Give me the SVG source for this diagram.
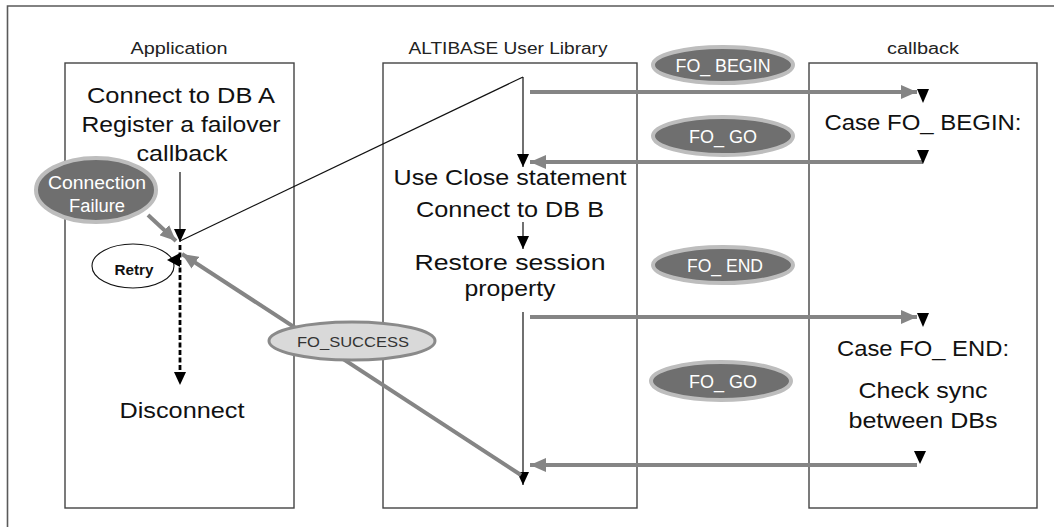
<svg xmlns="http://www.w3.org/2000/svg" width="1054" height="527" viewBox="0 0 1054 527">
<style>
.box{fill:#fff;stroke:#444;stroke-width:1.4}
.frame{fill:none;stroke:#5a5a5a;stroke-width:1.6}
.title{font-family:"Liberation Sans",Arial,sans-serif;font-size:16px;fill:#222;text-anchor:middle}
.main{font-family:"Liberation Sans",Arial,sans-serif;font-size:22px;fill:#111;text-anchor:middle}
.pill{fill:#6f6f6f;stroke:#bdbdbd;stroke-width:4}
.pilltxt{font-family:"Liberation Sans",Arial,sans-serif;font-size:18px;fill:#fff;text-anchor:middle}
.garrow{fill:none;stroke:#858585;stroke-width:4}
.thin{fill:none;stroke:#111;stroke-width:1.2}
.bhead{fill:#000}
</style>
<defs>
<marker id="gh" markerUnits="userSpaceOnUse" markerWidth="16" markerHeight="14" viewBox="0 0 16 14" refX="16" refY="7" orient="auto">
<path d="M0,0 L16,7 L0,14 Z" fill="#858585"/>
</marker>
<marker id="bh" markerUnits="userSpaceOnUse" markerWidth="13" markerHeight="12" viewBox="0 0 13 12" refX="13" refY="6" orient="auto">
<path d="M0,0 L13,6 L0,12 Z" fill="#000"/>
</marker>
</defs>
<path class="frame" d="M1054,6 L7.5,6 L7.5,527"/>
<g id="application">
<rect class="box" x="65" y="63" width="229" height="445"/>
<text class="title" x="179" y="54" textLength="97" lengthAdjust="spacingAndGlyphs">Application</text>
<text class="main" x="181" y="103" textLength="188" lengthAdjust="spacingAndGlyphs">Connect to DB A</text>
<text class="main" x="181" y="132" textLength="199" lengthAdjust="spacingAndGlyphs">Register a failover</text>
<text class="main" x="182" y="161" textLength="91" lengthAdjust="spacingAndGlyphs">callback</text>
<text class="main" x="182" y="418" textLength="125" lengthAdjust="spacingAndGlyphs">Disconnect</text>
</g>
<g id="library">
<rect class="box" x="383" y="63" width="254" height="445"/>
<text class="title" x="508" y="54" textLength="199" lengthAdjust="spacingAndGlyphs">ALTIBASE User Library</text>
<text class="main" x="510" y="185" textLength="233" lengthAdjust="spacingAndGlyphs">Use Close statement</text>
<text class="main" x="510" y="217" textLength="188" lengthAdjust="spacingAndGlyphs">Connect to DB B</text>
<text class="main" x="510" y="270" textLength="191" lengthAdjust="spacingAndGlyphs">Restore session</text>
<text class="main" x="510" y="296" textLength="91" lengthAdjust="spacingAndGlyphs">property</text>
</g>
<g id="callback">
<rect class="box" x="809" y="63" width="228" height="445"/>
<text class="title" x="923" y="54" textLength="72" lengthAdjust="spacingAndGlyphs">callback</text>
<text class="main" x="923" y="130" textLength="197" lengthAdjust="spacingAndGlyphs">Case FO_ BEGIN:</text>
<text class="main" x="923" y="356" textLength="172" lengthAdjust="spacingAndGlyphs">Case FO_ END:</text>
<text class="main" x="923" y="398" textLength="129" lengthAdjust="spacingAndGlyphs">Check sync</text>
<text class="main" x="923" y="428" textLength="149" lengthAdjust="spacingAndGlyphs">between DBs</text>
</g>
<g id="connectors">
<line class="thin" x1="180" y1="172" x2="180" y2="242" marker-end="url(#bh)"/>
<line class="thin" x1="180" y1="241" x2="523" y2="77"/>
<line class="thin" x1="523" y1="77" x2="523" y2="167" marker-end="url(#bh)"/>
<line class="thin" x1="523" y1="222" x2="523" y2="249" marker-end="url(#bh)"/>
<line class="thin" x1="523" y1="312" x2="523" y2="485" marker-end="url(#bh)"/>
<line x1="180" y1="245" x2="180" y2="373" stroke="#000" stroke-width="2.8" stroke-dasharray="5 2.5"/>
<path class="bhead" d="M174,372 L186,372 L180,385 Z"/>
<line class="garrow" x1="148" y1="215" x2="176" y2="241" marker-end="url(#gh)"/>
<line class="garrow" x1="521" y1="475" x2="182" y2="254" marker-end="url(#gh)"/>
<line class="garrow" x1="530" y1="92" x2="917" y2="92" marker-end="url(#gh)"/>
<line class="garrow" x1="923" y1="162" x2="530" y2="162" marker-end="url(#gh)"/>
<line class="garrow" x1="530" y1="317" x2="917" y2="317" marker-end="url(#gh)"/>
<line class="garrow" x1="917" y1="465" x2="530" y2="465" marker-end="url(#gh)"/>
<path class="bhead" d="M917,89 L929,89 L923,103 Z"/>
<path class="bhead" d="M917,150 L929,150 L923,164 Z"/>
<path class="bhead" d="M917,313 L929,313 L923,327 Z"/>
<path class="bhead" d="M914,451 L926,451 L920,464 Z"/>
</g>
<g id="connection-failure">
<ellipse class="pill" cx="96" cy="190" rx="60" ry="32"/>
<text class="pilltxt" x="97" y="189" font-size="19" textLength="98" lengthAdjust="spacingAndGlyphs">Connection</text>
<text class="pilltxt" x="97" y="212" font-size="19" textLength="56" lengthAdjust="spacingAndGlyphs">Failure</text>
</g>
<g id="retry">
<ellipse cx="133" cy="266" rx="41" ry="22" fill="#fff" stroke="#111" stroke-width="1.1"/>
<path class="bhead" d="M180,253 L180,267 L167,260 Z"/>
<text x="134" y="275" font-family="'Liberation Sans',Arial,sans-serif" font-size="15" font-weight="bold" fill="#111" text-anchor="middle" textLength="39" lengthAdjust="spacingAndGlyphs">Retry</text>
</g>
<g id="fo-success">
<ellipse cx="352" cy="341" rx="83" ry="19" fill="#d9d9d9" stroke="#8a8a8a" stroke-width="3"/>
<text x="353" y="347" font-family="'Liberation Sans',Arial,sans-serif" font-size="15" fill="#333" text-anchor="middle" textLength="112" lengthAdjust="spacingAndGlyphs">FO_SUCCESS</text>
</g>
<g id="fo-begin">
<ellipse class="pill" cx="723" cy="65" rx="70" ry="18"/>
<text class="pilltxt" x="723" y="72" textLength="95" lengthAdjust="spacingAndGlyphs">FO_ BEGIN</text>
</g>
<g id="fo-go-1">
<ellipse class="pill" cx="723" cy="136" rx="70" ry="19"/>
<text class="pilltxt" x="723" y="143" textLength="68" lengthAdjust="spacingAndGlyphs">FO_ GO</text>
</g>
<g id="fo-end">
<ellipse class="pill" cx="723" cy="265" rx="70" ry="18"/>
<text class="pilltxt" x="725" y="272" textLength="76" lengthAdjust="spacingAndGlyphs">FO_ END</text>
</g>
<g id="fo-go-2">
<ellipse class="pill" cx="721" cy="381" rx="70" ry="19"/>
<text class="pilltxt" x="723" y="388" textLength="68" lengthAdjust="spacingAndGlyphs">FO_ GO</text>
</g>
</svg>
